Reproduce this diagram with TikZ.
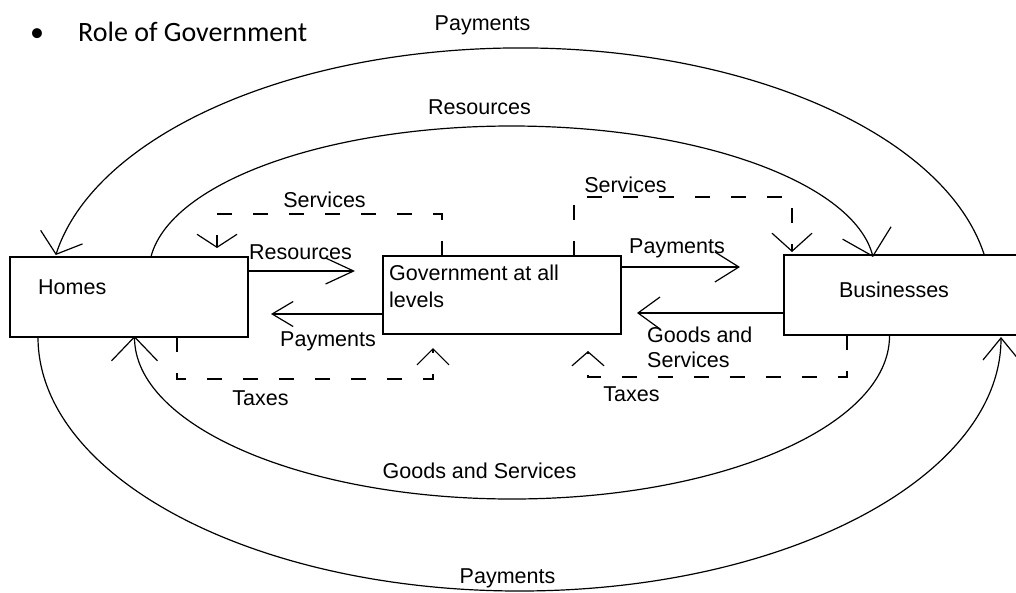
\documentclass[tikz,border=0pt]{standalone}
\usepackage{fontspec}
\setmainfont{Liberation Sans}
\newfontfamily\titlefont{Carlito}
\usetikzlibrary{arrows.meta}

\begin{document}
\begin{tikzpicture}[x=1pt,y=-1pt,
  box/.style={draw, line width=1.2pt, inner sep=0pt, outer sep=0pt, anchor=north west},
  flow/.style={line width=1.2pt},
  dashflow/.style={flow, dash pattern=on 15pt off 21pt},
  barb/.style 2 args={-{Straight Barb[length=#1,width=#2]}},
  lbl/.style={inner sep=0pt, font=\fontsize{21.5}{25}\selectfont},
]
\useasboundingbox (0,0) rectangle (1016,592);

% heading
\node[anchor=base, inner sep=0pt, font=\titlefont\fontsize{28}{32}\selectfont] (bullet) at (37,41) {•};
\node[anchor=base west, inner sep=0pt, font=\titlefont\fontsize{28}{32}\selectfont] (title) at (78,41) {Role of Government};

% sectors
\node[box, minimum width=238pt, minimum height=80pt] (homes) at (10,257) {};
\node[box, minimum width=238pt, minimum height=78pt] (gov) at (383,256) {};
\node[box, minimum width=246pt, minimum height=80pt] (bus) at (784,255) {};

\node[lbl, anchor=base west] (homesT) at (38,294) {Homes};
\node[lbl, anchor=north west, align=left, font=\fontsize{21.5}{27}\selectfont] (govT) at (389,265) {Government at all\\levels};
\node[lbl, anchor=base] (busT) at (894,297) {Businesses};

% ends of the outer and inner loops
\coordinate (oTopStart) at (984.3,255);
\coordinate (iTopStart) at (150.9,257);
\coordinate (iBotStart) at (889.5,336);
\coordinate (oBotStart) at (38,337);

% outer loop: payments to homes (top), payments to businesses (bottom)
\draw[flow, barb={18pt}{44pt}] (oTopStart) arc[start angle=-9.7, end angle=-170.3, x radius=471, y radius=249];
\draw[flow, barb={22pt}{36pt}] (oBotStart) arc[start angle=180, end angle=0, x radius=481.5, y radius=254];

% inner loop: resources to businesses (top), goods and services to homes (bottom)
\draw[flow, barb={24pt}{50pt}] (iTopStart) arc[start angle=-174.1, end angle=-5.9, x radius=363, y radius=146];
\draw[flow, barb={24pt}{46pt}] (iBotStart) arc[start angle=0, end angle=180, x radius=377.5, y radius=163];

% straight flows between sectors and government
\coordinate (resTip) at (355,271);
\coordinate (payHTip) at (271,314);
\coordinate (payBTip) at (740,267);
\coordinate (goodsTip) at (637,313);
\draw[flow, barb={28pt}{26pt}] (homes.east |- resTip) -- (resTip);
\draw[flow, barb={21pt}{25pt}] (gov.west |- payHTip) -- (payHTip);
\draw[flow, barb={24pt}{30pt}] (gov.east |- payBTip) -- (payBTip);
\draw[flow, barb={22pt}{32pt}] (bus.west |- goodsTip) -- (goodsTip);

% dashed loops: services from government, taxes to government
\draw[dashflow, barb={13pt}{40pt}] ([xshift=59pt]gov.north west) -- ++(0,-42) -| ([xshift=-31pt,yshift=9pt]homes.north east);
\draw[dashflow, barb={16pt}{32pt}] ([xshift=167pt]homes.south west) -- ++(0,42) -| ([xshift=50pt,yshift=-14pt]gov.south west);
\draw[dashflow, barb={18pt}{40pt}] ([xshift=191pt]gov.north west) -- ++(0,-59) -| ([xshift=8pt,yshift=3pt]bus.north west);
\draw[dashflow, barb={14pt}{32pt}] ([xshift=63pt]bus.south west) -- ++(0,42) -| ([xshift=205pt,yshift=-17pt]gov.south west);

% flow labels
\node[lbl, anchor=base] (lPayTop) at (482.5,30.5) {Payments};
\node[lbl, anchor=base] (lResTop) at (479.5,114.5) {Resources};
\node[lbl, anchor=base] (lSrvL) at (324.5,207) {Services};
\node[lbl, anchor=base] (lSrvR) at (625.5,192) {Services};
\node[lbl, anchor=base] (lRes) at (300.5,259) {Resources};
\node[lbl, anchor=base] (lPayH) at (328,346) {Payments};
\node[lbl, anchor=base] (lPayB) at (677,253) {Payments};
\node[lbl, anchor=north west, align=left] (lGoods) at (647,327) {Goods and\\Services};
\node[lbl, anchor=base] (lTaxL) at (260.5,405) {Taxes};
\node[lbl, anchor=base] (lTaxR) at (631.5,401) {Taxes};
\node[lbl, anchor=base] (lGoodsBot) at (479.5,478) {Goods and Services};
\node[lbl, anchor=base] (lPayBot) at (507.5,583) {Payments};
\end{tikzpicture}
\end{document}
